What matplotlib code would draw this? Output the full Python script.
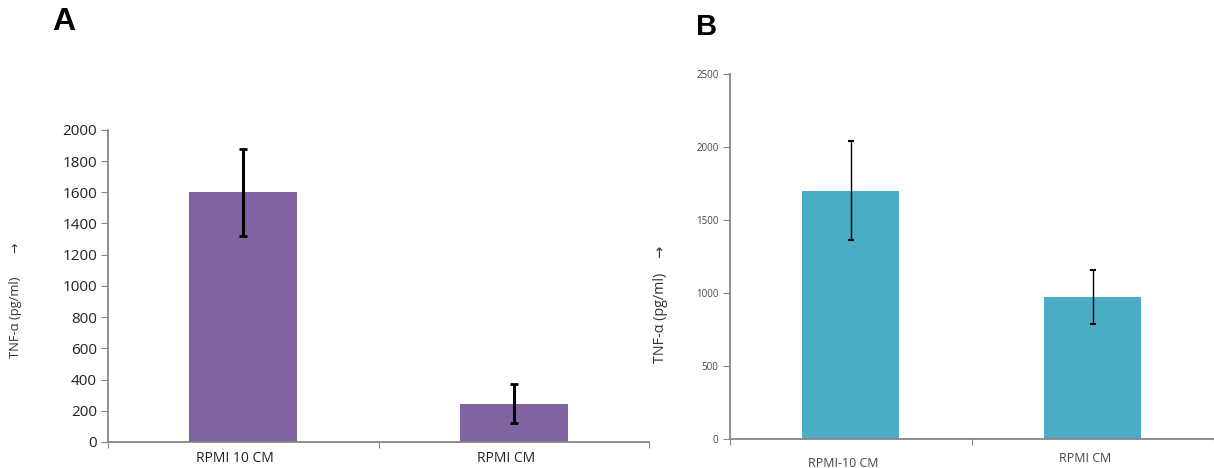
import numpy as np
import matplotlib.pyplot as plt

# panel A data
cats_a = ['RPMI 10 CM', 'RPMI CM']
vals_a = [1600, 245]
err_a = [280, 125]

# panel B data
cats_b = ['RPMI-10 CM', 'RPMI CM']
vals_b = [1700, 975]
err_b = [340, 185]

plt.rcParams['font.family'] = ['Open Sans', 'DejaVu Sans']

fig = plt.figure(figsize=(12.14, 4.68), dpi=100)
ax_a = fig.add_axes([0.089, 0.0556, 0.4456, 0.667])
ax_b = fig.add_axes([0.601, 0.062, 0.3987, 0.780])


def style_axes(ax, ymax, ystep, fs, tick_col):
    for s in ['top', 'right']:
        ax.spines[s].set_visible(False)
    for s in ['left', 'bottom']:
        ax.spines[s].set_color('#868686')
        ax.spines[s].set_linewidth(1.3)
    ax.set_ylim(0, ymax)
    ax.set_yticks(np.arange(0, ymax + 1, ystep))
    ax.set_xlim(-0.5, 1.5)
    ax.set_xticks([-0.5, 0.5, 1.5])
    ax.set_xticklabels([])
    ax.tick_params(axis='y', direction='out', length=5, color='#868686',
                   labelsize=fs, labelcolor=tick_col, pad=3)
    ax.tick_params(axis='x', direction='out', length=4, color='#868686')
    ax.set_facecolor('none')


x = np.arange(2)

# Panel A
ax_a.bar(x, vals_a, width=0.4, color='#8064A2', zorder=2)
ax_a.errorbar(x, vals_a, yerr=err_a, fmt='none', ecolor='black',
              elinewidth=2.2, capsize=3, capthick=2, zorder=3)
style_axes(ax_a, 2000, 200, 11, '#222222')
for xi, lab in zip(x, cats_a):
    ax_a.annotate(lab, (xi - 0.03, 0), xycoords=('data', 'axes fraction'),
                  xytext=(0, -12), textcoords='offset points',
                  ha='center', va='center', fontsize=10, color='#222222')

# Panel B
ax_b.bar(x, vals_b, width=0.4, color='#4BACC6', zorder=2)
ax_b.errorbar(x, vals_b, yerr=err_b, fmt='none', ecolor='black',
              elinewidth=1, capsize=2.5, capthick=1.5, zorder=3)
style_axes(ax_b, 2500, 500, 7, '#444444')
for xi, lab, off in zip(x, cats_b, [-17.5, -14]):
    ax_b.annotate(lab, (xi - 0.03, 0), xycoords=('data', 'axes fraction'),
                  xytext=(0, off), textcoords='offset points',
                  ha='center', va='center', fontsize=8.9, color='#444444')

# y labels with arrows, placed as in the figure
fig.text(0.0124, 0.3226, 'TNF-α (pg/ml)', rotation=90, ha='center', va='center',
         fontsize=9.3, color='#333333')
fig.text(0.0124, 0.47, '→', rotation=90, ha='center', va='center',
         fontsize=9, color='#333333', family='DejaVu Sans')
fig.text(0.544, 0.321, 'TNF-α (pg/ml)', rotation=90, ha='center', va='center',
         fontsize=10.3, color='#333333')
fig.text(0.544, 0.461, '→', rotation=90, ha='center', va='center',
         fontsize=10.5, color='#333333', family='DejaVu Sans')

fig.text(0.043, 0.953, 'A', fontsize=23, fontweight='bold', va='center',
         family='Liberation Sans')
fig.text(0.573, 0.942, 'B', fontsize=21, fontweight='bold', va='center',
         family='Liberation Sans')

fig.savefig('out.png', dpi=100)
